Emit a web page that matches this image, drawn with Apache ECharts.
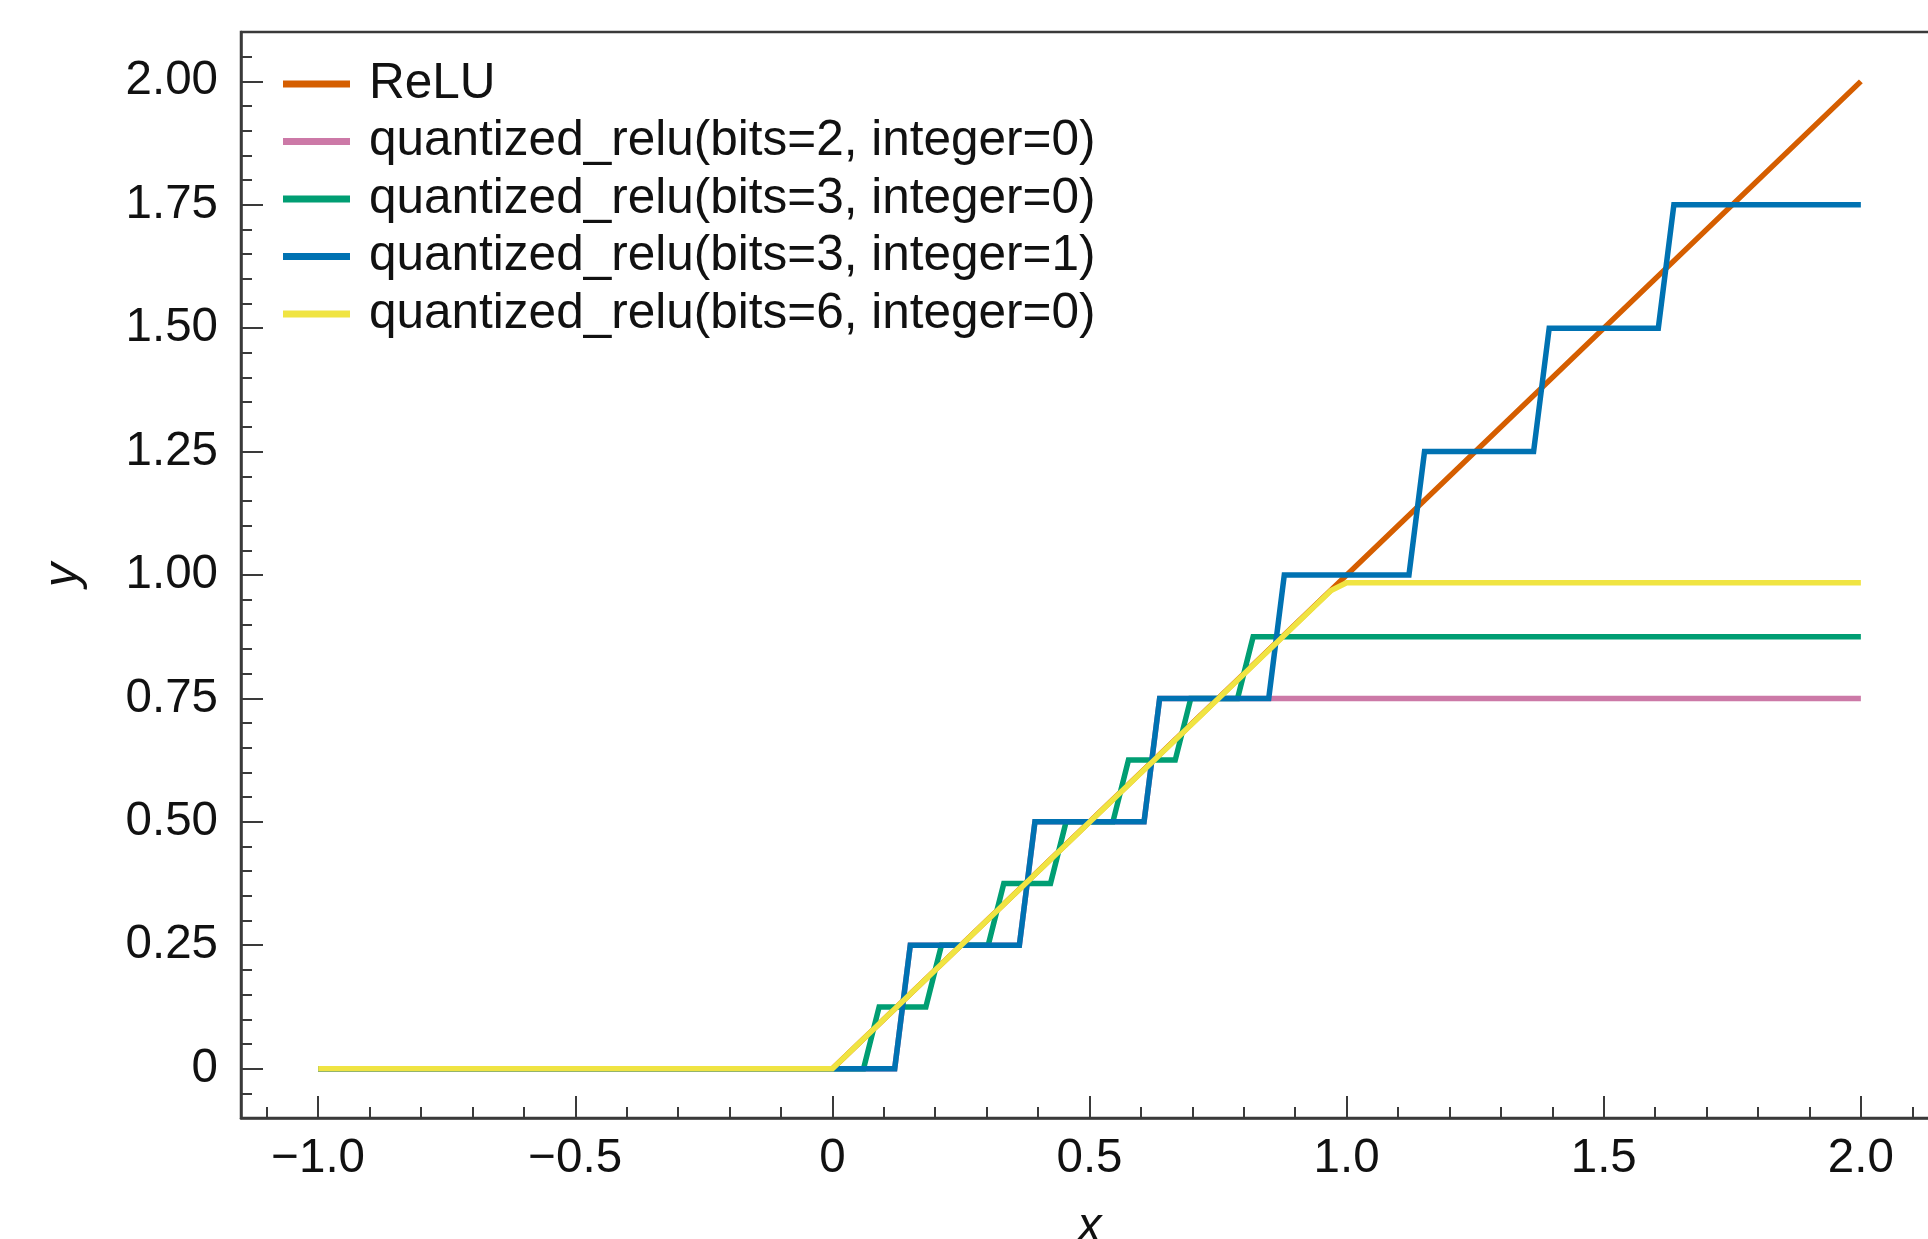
<!DOCTYPE html>
<html>
<head>
<meta charset="utf-8">
<script src="https://cdn.jsdelivr.net/npm/echarts@6/dist/echarts.min.js"></script>
<style>
html,body{margin:0;padding:0;background:#fff;}
#chart{width:1928px;height:1239px;}
</style>
</head>
<body>
<div id="chart"></div>
<script>
// ---- data ----
const seriesNames = [
  'ReLU',
  'quantized_relu(bits=2, integer=0)',
  'quantized_relu(bits=3, integer=0)',
  'quantized_relu(bits=3, integer=1)',
  'quantized_relu(bits=6, integer=0)'
];
const seriesColors = ['#D55E00', '#CC79A7', '#009E73', '#0072B2', '#F0E442'];

const reluPoints = [[-1, 0], [0, 0], [2, 2]];
const bits2int0Points = [[-1, 0], [0.1212, 0], [0.1515, 0.25], [0.3636, 0.25], [0.3939, 0.5],
  [0.6061, 0.5], [0.6364, 0.75], [2, 0.75]];
const bits3int0Points = [[-1, 0], [0.0606, 0], [0.0909, 0.125], [0.1818, 0.125], [0.2121, 0.25],
  [0.3030, 0.25], [0.3333, 0.375], [0.4242, 0.375], [0.4545, 0.5], [0.5455, 0.5],
  [0.5758, 0.625], [0.6667, 0.625], [0.6970, 0.75], [0.7879, 0.75], [0.8182, 0.875], [2, 0.875]];
const bits3int1Points = [[-1, 0], [0.1212, 0], [0.1515, 0.25], [0.3636, 0.25], [0.3939, 0.5],
  [0.6061, 0.5], [0.6364, 0.75], [0.8485, 0.75], [0.8788, 1.0], [1.1212, 1.0], [1.1515, 1.25],
  [1.3636, 1.25], [1.3939, 1.5], [1.6061, 1.5], [1.6364, 1.75], [2, 1.75]];
const bits6int0Points = [[-1, 0], [0, 0], [0.9697, 0.96875], [1.0, 0.984375], [2, 0.984375]];

const xMajorTicks = [-1, -0.5, 0, 0.5, 1, 1.5, 2];
const xMinorTicks = [-1.1, -0.9, -0.8, -0.7, -0.6, -0.4, -0.3, -0.2, -0.1, 0.1, 0.2, 0.3, 0.4,
  0.6, 0.7, 0.8, 0.9, 1.1, 1.2, 1.3, 1.4, 1.6, 1.7, 1.8, 1.9, 2.1];
const yMajorTicks = [0, 0.25, 0.5, 0.75, 1, 1.25, 1.5, 1.75, 2];
const yMinorTicks = [-0.05, 0.05, 0.1, 0.15, 0.2, 0.3, 0.35, 0.4, 0.45, 0.55, 0.6, 0.65, 0.7,
  0.8, 0.85, 0.9, 0.95, 1.05, 1.1, 1.15, 1.2, 1.3, 1.35, 1.4, 1.45, 1.55, 1.6, 1.65, 1.7,
  1.8, 1.85, 1.9, 1.95, 2.05];

const allPoints = [reluPoints, bits2int0Points, bits3int0Points, bits3int1Points, bits6int0Points];

// ---- styling ----
const FONT = "'Liberation Sans', Arial, Helvetica, sans-serif";
const AX = '#3a3a3a';
const X_MIN = -1.15, X_MAX = 2.15, Y_MIN = -0.1, Y_MAX = 2.1;

const chart = echarts.init(document.getElementById('chart'), null, {renderer: 'canvas'});

function xFmt(v) {
  if (Math.abs(v) < 1e-9) return '0';
  return v.toFixed(1).replace('-', '\u2212');
}
function yFmt(v) {
  if (Math.abs(v) < 1e-9) return '0';
  return v.toFixed(2);
}

const option = {
  backgroundColor: '#ffffff',
  animation: false,
  grid: {
    left: 241, top: 32, right: -10, bottom: 121,
    containLabel: false, outerBoundsMode: 'none',
    show: true, borderColor: AX, borderWidth: 2.5, backgroundColor: 'transparent'
  },
  legend: {
    left: 283, top: 59, orient: 'vertical', padding: 0, itemGap: 7.5,
    itemWidth: 67, itemHeight: 7, icon: 'rect',
    textStyle: {fontFamily: FONT, fontSize: 49.5, color: '#111', lineHeight: 49.5, padding: [0, 0, 0, 14]},
    data: seriesNames
  },
  xAxis: [
    {
      type: 'value', min: X_MIN, max: X_MAX, position: 'bottom',
      name: 'x', nameLocation: 'middle', nameGap: 86,
      nameTextStyle: {fontFamily: FONT, fontSize: 48, fontStyle: 'italic', color: '#111'},
      axisLine: {show: true, onZero: false, lineStyle: {color: AX, width: 2.5}},
      axisTick: {show: true, inside: true, length: 22, lineStyle: {color: AX, width: 2}, customValues: xMajorTicks},
      axisLabel: {show: true, margin: 17, fontFamily: FONT, fontSize: 47.5, color: '#111',
        customValues: xMajorTicks, formatter: xFmt},
      splitLine: {show: false}
    },
    {
      type: 'value', min: X_MIN, max: X_MAX, position: 'bottom',
      axisLine: {show: false, onZero: false},
      axisTick: {show: true, inside: true, length: 11, lineStyle: {color: AX, width: 2}, customValues: xMinorTicks},
      axisLabel: {show: false, customValues: xMinorTicks},
      splitLine: {show: false}
    }
  ],
  yAxis: [
    {
      type: 'value', min: Y_MIN, max: Y_MAX, position: 'left',
      name: 'y', nameLocation: 'middle', nameGap: 153,
      nameTextStyle: {fontFamily: FONT, fontSize: 48, fontStyle: 'italic', color: '#111'},
      axisLine: {show: true, onZero: false, lineStyle: {color: AX, width: 2.5}},
      axisTick: {show: true, inside: true, length: 22, lineStyle: {color: AX, width: 2}, customValues: yMajorTicks},
      axisLabel: {show: true, margin: 23, fontFamily: FONT, fontSize: 47.5, color: '#111',
        customValues: yMajorTicks, formatter: yFmt},
      splitLine: {show: false}
    },
    {
      type: 'value', min: Y_MIN, max: Y_MAX, position: 'left',
      axisLine: {show: false, onZero: false},
      axisTick: {show: true, inside: true, length: 11, lineStyle: {color: AX, width: 2}, customValues: yMinorTicks},
      axisLabel: {show: false, customValues: yMinorTicks},
      splitLine: {show: false}
    }
  ],
  series: seriesNames.map(function (name, i) {
    return {
      name: name,
      type: 'line',
      xAxisIndex: 0, yAxisIndex: 0,
      data: allPoints[i],
      showSymbol: false, symbol: 'none',
      color: seriesColors[i],
      lineStyle: {color: seriesColors[i], width: 5.5, cap: 'butt', join: 'miter'},
      z: 2 + i,
      clip: true
    };
  })
};

chart.setOption(option);
</script>
</body>
</html>
